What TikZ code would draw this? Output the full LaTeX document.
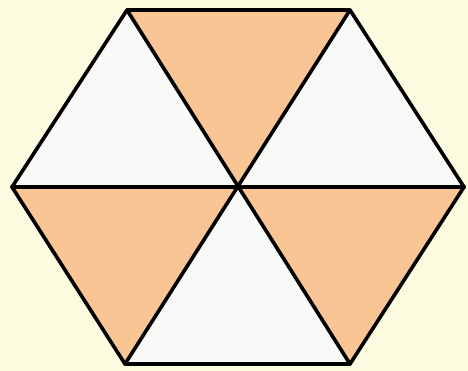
\documentclass[tikz,border=0pt]{standalone}
\usetikzlibrary{calc}
\definecolor{hxcream}{HTML}{FCFADF}
\definecolor{hxorange}{HTML}{F9C595}
\definecolor{hxwhite}{HTML}{F9F9F7}
\begin{document}
\begin{tikzpicture}[
    x=1pt,y=-1pt,
    piece/.style={fill=hxwhite},
    shaded/.style={fill=hxorange},
    edge/.style={draw=black,line width=3.6pt,line join=round,line cap=round}
  ]
    \fill[hxcream] (0,0) rectangle (468,371);
    \useasboundingbox (0,0) rectangle (468,371);
    % corners of the hexagon and its centre
    \coordinate (tl) at (127,10);
    \coordinate (tr) at (350,10);
    \coordinate (r) at (464,187);
    \coordinate (br) at (350,364);
    \coordinate (bl) at (125,364);
    \coordinate (l) at (12,187);
    \coordinate (c) at (238,187);
    \fill[piece] (tl)--(tr)--(r)--(br)--(bl)--(l)--cycle;
    \fill[shaded] (tl)--(tr)--(c)--cycle;
    \fill[shaded] (l)--(bl)--(c)--cycle;
    \fill[shaded] (r)--(br)--(c)--cycle;
    \draw[edge] (tl)--(tr)--(r)--(br)--(bl)--(l)--cycle;
    \draw[edge] (l)--(r);
    \draw[edge] (tl)--(br);
    \draw[edge] (tr)--(bl);
  \end{tikzpicture}
\end{document}
